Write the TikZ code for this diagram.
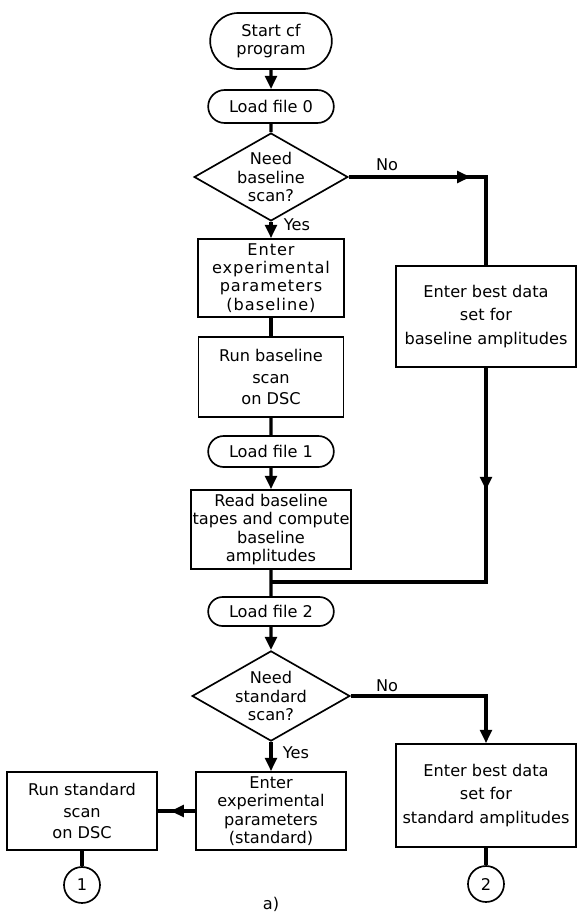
\documentclass[tikz,border=0pt]{standalone}
\usepackage{fontspec}
\setmainfont{DejaVu Sans}
\usetikzlibrary{shapes.geometric,shapes.misc,arrows.meta,decorations.markings}

\begin{document}
\begin{tikzpicture}[x=0.6pt,y=-0.6pt,
    font=\fontsize{9.7}{11}\selectfont,
    box/.style={draw,line width=1pt,align=center,inner sep=1pt},
    term/.style={draw,line width=1pt,rounded rectangle,align=center,inner sep=1pt},
    ask/.style={draw,line width=1pt,diamond,aspect=1.75,align=center,inner sep=0pt},
    conn/.style={draw,line width=1pt,circle,minimum size=21.6pt,inner sep=0pt},
    flow/.style={line width=2pt},
    arrowed/.style={-{Triangle[length=8pt,width=7pt]}},
    midtip/.style={postaction={decorate},
      decoration={markings,mark=at position #1 with {\arrow{Triangle[length=8pt,width=7pt]}}}}]
      \useasboundingbox (0,0) rectangle (577,917);
      % main column
      \node[term,minimum width=75pt,minimum height=33.6pt] (start) at (271,41) {Start cf\\program};
      \node[term,minimum width=77.4pt,minimum height=19.8pt] (load0) at (271,106.5) {Load file 0};
      \node[ask,minimum width=87pt,minimum height=49.8pt] (need1) at (271,177) {Need\\baseline\\scan?};
      \node[box,minimum width=87.6pt,minimum height=46.8pt,
        font=\fontsize{9.7}{11}\selectfont\addfontfeature{LetterSpace=6}] (enter1) at (271,278)
        {Enter\\experimental\\parameters\\(baseline)};
      \node[box,minimum width=87pt,minimum height=48pt] (run1) at (271,377) {Run baseline\\[2pt]scan\\[2pt]on DSC};
      \node[term,minimum width=77.4pt,minimum height=18.6pt] (load1) at (271,451.5) {Load file 1};
      \node[box,minimum width=88.8pt,minimum height=47.4pt] (read1) at (271,529.5)
        {Read baseline\\tapes and compute\\baseline\\amplitudes};
      \coordinate (join) at (271,582);
      \node[term,minimum width=77.4pt,minimum height=17.4pt] (load2) at (271,611.5) {Load file 2};
      \node[ask,minimum width=88.8pt,minimum height=49.8pt] (need2) at (271,696) {Need\\standard\\scan?};
      \node[box,minimum width=90pt,minimum height=46.8pt] (enter2) at (271,811)
        {Enter\\experimental\\parameters\\(standard)};
      % side boxes
      \node[box,minimum width=108pt,minimum height=60.6pt] (best1) at (486,316.5)
        {Enter best data\\[3pt]set for\\[3pt]baseline amplitudes};
      \node[box,minimum width=108pt,minimum height=61.8pt] (best2) at (486,795.5)
        {Enter best data\\[3pt]set for\\[3pt]standard amplitudes};
      \node[box,minimum width=90pt,minimum height=46.8pt] (run2) at (82,811) {Run standard\\[2pt]scan\\[2pt]on DSC};
      \node[conn] (c1) at (82,885) {1};
      \node[conn] (c2) at (486,884) {2};
      % labels
      \node (no1) at (387,165) {No};
      \node (yes1) at (297,225) {Yes};
      \node (no2) at (387,686) {No};
      \node (yes2) at (296,753) {Yes};
      \node (caption) at (271,904) {a)};
      % connectors
      \draw[flow,arrowed] (start) -- (load0);
      \draw[flow] (load0) -- (need1);
      \draw[flow,arrowed] (need1) -- (enter1);
      \draw[flow] (enter1) -- (run1);
      \draw[flow] (run1) -- (load1);
      \draw[flow,arrowed] (load1) -- (read1);
      \draw[flow] (read1) -- (load2);
      \draw[flow,midtip=0.54] (need1.east) -| (best1.north);
      \draw[flow,midtip=0.285] (best1.south) |- (join);
      \draw[flow,arrowed] (load2) -- (need2);
      \draw[flow,arrowed] (need2) -- (enter2);
      \draw[flow,arrowed] (need2.east) -| (best2.north);
      \draw[flow,midtip=0.66] (enter2) -- (run2);
      \draw[flow] (run2) -- (c1);
      \draw[flow] (best2) -- (c2);
    \end{tikzpicture}
\end{document}
